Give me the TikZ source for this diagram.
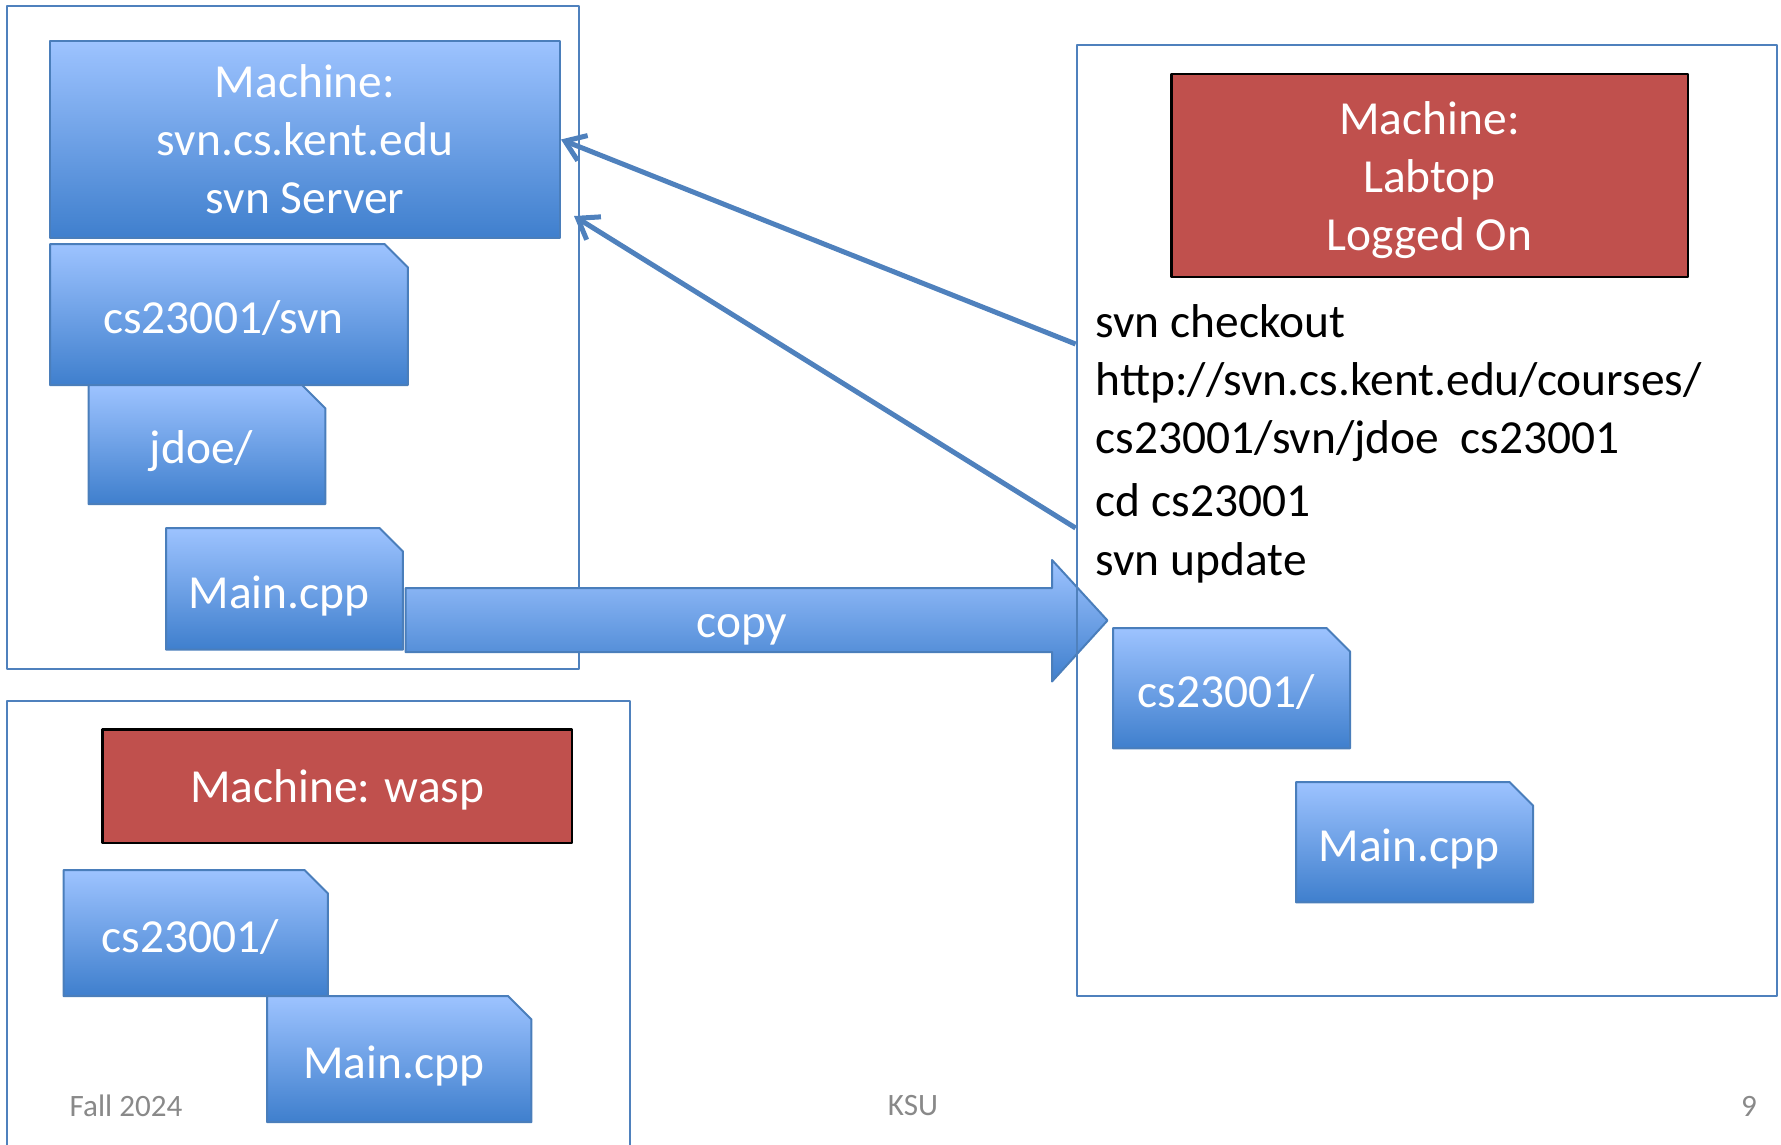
\documentclass[tikz,border=0pt]{standalone}
\usepackage{fontspec}
\setmainfont{Carlito}
\usetikzlibrary{shapes.misc,arrows.meta}
\definecolor{frameblue}{HTML}{4F81BD}
\definecolor{foldtop}{HTML}{9DC3FF}
\definecolor{foldmid}{HTML}{7AA7EC}
\definecolor{foldbot}{HTML}{3F7FCD}
\definecolor{foldline}{HTML}{4A7EBB}
\definecolor{machred}{HTML}{C0504D}
\definecolor{footgray}{HTML}{898989}
\begin{document}
\begin{tikzpicture}[x=0.1mm,y=-0.1mm,line join=round,>={Straight Barb[length=1.9mm,width=2.7mm]}]
	\tikzset{frame/.style={draw=frameblue,line width=0.2mm,anchor=north west,inner sep=0},
		bigfont/.style={font=\fontsize{13.5}{16.5}\selectfont},
		bluebox/.style={draw=foldline,line width=0.2mm,top color=foldtop,middle color=foldmid,bottom color=foldbot,
			text=white,bigfont,anchor=north west,inner sep=0,align=center},
		folder/.style={bluebox,chamfered rectangle,chamfered rectangle corners=north east,
			chamfered rectangle xsep=1.05mm,chamfered rectangle ysep=1.3mm,
			text height=11pt,text depth=0pt,execute at end node=\hspace*{1.1mm}},
		machine/.style={draw=black,line width=0.25mm,fill=machred,text=white,align=center,
			bigfont,anchor=north west,inner sep=0,text depth=0pt},
		cmd/.style={anchor=base west,inner sep=0,bigfont},
		footer/.style={text=footgray,inner sep=0,font=\fontsize{8.85}{10}\selectfont},
		link/.style={draw=frameblue,line width=0.5mm,->}}
	\useasboundingbox (0,0) rectangle (1781,1145);
	% server side
	\node[frame,minimum width=57.2mm,minimum height=66.4mm] (srvframe) at (5.7,4.5) {};
	\node[bluebox,minimum width=51mm,minimum height=19.7mm] (server) at (49,40) {Machine:\\svn.cs.kent.edu\\svn Server};
	\node[folder,minimum width=35.8mm,minimum height=14.1mm] (repo) at (49,243) {cs23001/svn};
	\node[folder,minimum width=23.7mm,minimum height=11.9mm] (jdoe) at (87.5,384) {jdoe/};
	\node[folder,minimum width=23.7mm,minimum height=12.15mm] (srvmain) at (165,527) {Main.cpp};
	% wasp
	\node[frame,minimum width=62.3mm,minimum height=50mm] (waspframe) at (5.7,700) {};
	\node[machine,minimum width=47mm,minimum height=11.36mm] (wasp) at (101,728) {Machine: wasp};
	\node[folder,minimum width=26.45mm,minimum height=12.6mm] (waspdir) at (62.5,869) {cs23001/};
	\node[folder,minimum width=26.45mm,minimum height=12.6mm] (waspmain) at (266,995) {Main.cpp};
	% copy arrow
	\shade[top color=foldtop,bottom color=foldbot,draw=foldline,line width=0.2mm]
		(405.5,588) -- (1052,588) -- (1052,560) -- (1107.5,620.5) -- (1052,681.5) -- (1052,652) -- (405.5,652) -- cycle;
	\node[text=white,bigfont] (copy) at (742,630) {copy};
	% laptop side
	\node[frame,minimum width=70mm,minimum height=95.1mm] (labframe) at (1075.6,44) {};
	\node[machine,minimum width=51.66mm,minimum height=20.33mm] (labtop) at (1170,72.7) {Machine:\\Labtop\\Logged On};
	\node[cmd] (co1) at (1095,337) {svn checkout};
	\node[cmd] (co2) at (1095,395) {http://svn.cs.kent.edu/courses/};
	\node[cmd] (co3) at (1095,453) {cs23001/svn/jdoe\ \ cs23001};
	\node[cmd] (cd) at (1095,516) {cd cs23001};
	\node[cmd] (up) at (1095,575) {svn update};
	\node[folder,minimum width=23.7mm,minimum height=12.04mm] (labdir) at (1112,627) {cs23001/};
	\node[folder,minimum width=23.7mm,minimum height=12.04mm] (labmain) at (1295,781) {Main.cpp};
	% checkout and update go back to the server
	\coordinate (outco) at (1075.6,344);
	\coordinate (outup) at (1075.6,528);
	\coordinate (srvin) at (574,216);
	\draw[link] (outco) -- (server.east);
	\draw[link] (outup) -- (srvin);
	% footer
	\node[footer] (term) at (126,1106) {Fall 2024};
	\node[footer] (school) at (913,1106) {KSU};
	\node[footer] (page) at (1749,1106) {9};
\end{tikzpicture}
\end{document}
